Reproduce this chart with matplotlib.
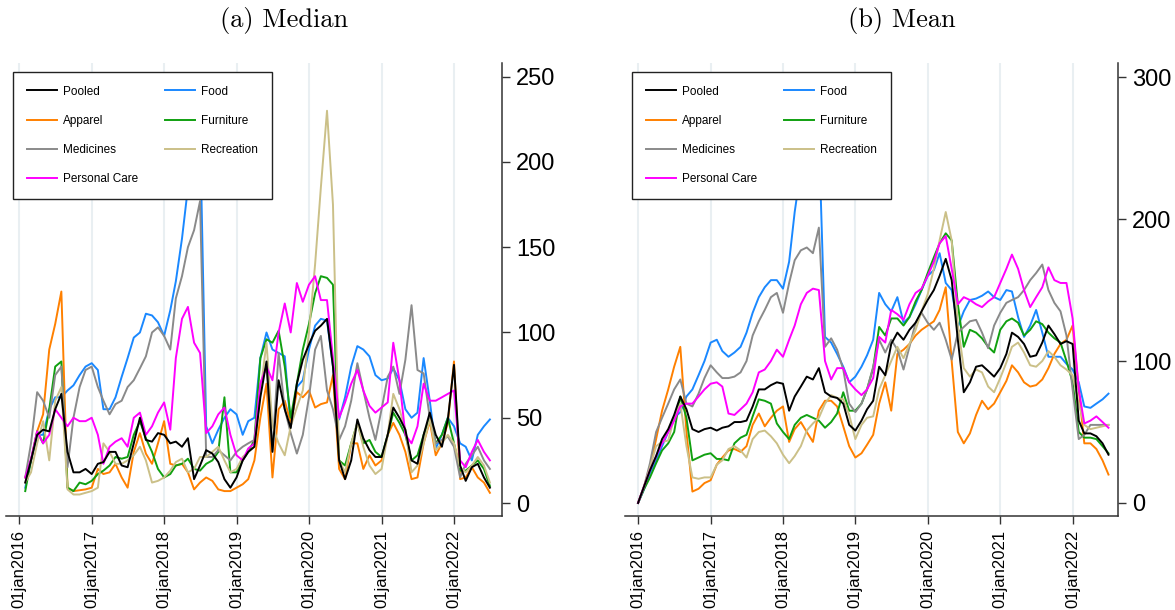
import pandas as pd
import matplotlib.pyplot as plt

# monthly observations
dates_median = pd.date_range('2016-02-01', periods=78, freq='MS')
dates_mean = pd.date_range('2016-01-01', periods=79, freq='MS')

years = list(range(2016, 2023))
tick_labels = ['01jan%d' % y for y in years]

# (a) Median
med_pooled = [12, 25, 40, 43, 42, 55, 64, 30, 18, 18, 20, 17, 23, 24, 30, 30, 22, 21, 35, 50,
              37, 36, 41, 40, 35, 36, 33, 38, 14, 22, 31, 29, 24, 14, 9, 15, 25, 30, 33, 62,
              83, 30, 72, 55, 44, 70, 84, 93, 101, 104, 108, 80, 25, 14, 25, 49, 38, 31, 27, 27,
              40, 56, 50, 43, 25, 23, 40, 53, 40, 33, 49, 81, 22, 13, 21, 23, 15, 9]
med_food = [9, 25, 40, 40, 55, 62, 62, 66, 69, 75, 80, 82, 78, 55, 55, 62, 74, 85, 97, 100,
            111, 110, 106, 98, 113, 130, 155, 185, 210, 220, 45, 35, 43, 50, 55, 52, 40, 48, 50, 85,
            100, 90, 88, 86, 45, 68, 72, 90, 104, 108, 107, 80, 49, 62, 80, 92, 90, 86, 75, 72,
            73, 79, 72, 55, 50, 53, 85, 60, 32, 40, 50, 45, 35, 33, 25, 40, 45, 49]
med_apparel = [15, 25, 42, 52, 90, 105, 124, 9, 7, 7.5, 8, 9, 20, 17, 18, 23, 15, 9, 30, 41,
               29, 23, 35, 48, 23, 22, 23, 18, 8, 12, 15, 13, 8, 7, 7, 9, 11, 14, 25, 50,
               70, 15, 55, 60, 47, 65, 62, 66, 56, 58, 59, 75, 20, 14, 35, 35, 20, 28, 22, 25,
               40, 47, 40, 30, 14, 15, 35, 48, 28, 35, 47, 83, 14, 15, 21, 15, 12, 6]
med_furniture = [7, 25, 42, 35, 55, 80, 83, 9, 7, 12, 11, 13, 17, 19, 22, 27, 26, 27, 40, 48,
                 38, 30, 20, 15, 17, 22, 23, 26, 20, 19, 23, 25, 30, 62, 18, 18, 25, 30, 37, 85,
                 96, 94, 101, 80, 50, 70, 90, 105, 123, 133, 132, 128, 25, 22, 35, 47, 35, 37, 30, 27,
                 40, 53, 47, 40, 25, 28, 40, 50, 35, 40, 50, 35, 19, 19, 22, 25, 20, 10]
med_medicines = [15, 35, 65, 60, 50, 75, 80, 21, 50, 68, 78, 80, 68, 60, 52, 58, 60, 68, 72, 79,
                 86, 100, 103, 98, 90, 120, 133, 150, 160, 177, 27, 27, 31, 28, 25, 30, 33, 35, 37, 70,
                 80, 31, 88, 55, 41, 29, 40, 62, 90, 98, 66, 55, 37, 45, 60, 82, 66, 50, 37, 55,
                 74, 80, 64, 84, 116, 78, 76, 50, 35, 37, 39, 33, 15, 23, 28, 33, 25, 20]
med_recreation = [12, 18, 35, 48, 25, 60, 68, 8, 5, 5, 6, 7, 9, 35, 30, 23, 23, 25, 28, 33,
                  25, 12, 13, 15, 19, 24, 26, 18, 20, 27, 27, 30, 33, 25, 18, 20, 27, 30, 33, 65,
                  94, 45, 35, 28, 45, 56, 66, 100, 140, 185, 230, 175, 25, 18, 35, 47, 33, 22, 17, 20,
                  40, 64, 55, 43, 18, 22, 35, 49, 31, 35, 40, 35, 21, 18, 22, 27, 22, 12]
med_personal = [15, 26, 42, 35, 40, 55, 50, 45, 50, 48, 48, 50, 40, 23, 33, 36, 38, 33, 50, 53,
                40, 45, 53, 59, 43, 85, 108, 115, 94, 88, 41, 45, 52, 56, 40, 28, 25, 32, 35, 70,
                80, 72, 100, 117, 100, 129, 118, 128, 133, 119, 119, 85, 50, 59, 70, 78, 66, 57, 53, 56,
                59, 94, 72, 40, 35, 45, 70, 60, 60, 62, 64, 66, 25, 21, 30, 37, 30, 25]

# (b) Mean
mean_pooled = [0, 12, 23, 33, 45, 52, 62, 75, 66, 52, 50, 52, 53, 51, 53, 54, 57, 57, 58, 68,
               80, 80, 83, 85, 84, 65, 75, 82, 89, 87, 95, 78, 75, 74, 70, 55, 51, 58, 66, 72,
               96, 90, 112, 120, 115, 122, 127, 135, 143, 150, 160, 172, 157, 115, 78, 85, 96, 97, 93, 89,
               95, 105, 120, 117, 112, 103, 104, 113, 125, 119, 112, 114, 112, 58, 49, 49, 47, 42, 34]
mean_food = [0, 10, 21, 30, 40, 50, 60, 64, 75, 80, 90, 100, 113, 115, 107, 103, 106, 110, 120, 134,
             145, 152, 157, 157, 151, 170, 205, 235, 255, 265, 260, 117, 113, 105, 96, 85, 89, 96, 104, 115,
             148, 140, 135, 145, 127, 131, 140, 150, 160, 164, 176, 155, 150, 124, 135, 143, 144, 146, 149, 145,
             143, 150, 149, 131, 117, 125, 136, 120, 103, 103, 103, 98, 94, 85, 68, 67, 70, 73, 77]
mean_apparel = [0, 12, 25, 45, 65, 80, 96, 110, 50, 8, 10, 14, 16, 27, 32, 37, 38, 36, 40, 55,
                63, 54, 60, 65, 68, 43, 52, 57, 50, 43, 65, 72, 72, 68, 54, 40, 32, 35, 41, 48,
                70, 85, 65, 105, 108, 112, 118, 122, 125, 128, 136, 152, 100, 50, 42, 49, 62, 72, 66, 70,
                78, 86, 97, 92, 85, 82, 83, 87, 95, 105, 112, 115, 125, 80, 42, 42, 38, 30, 20]
mean_furniture = [0, 10, 18, 28, 37, 42, 50, 75, 60, 30, 32, 34, 35, 31, 31, 30, 42, 46, 48, 61,
                  73, 72, 70, 56, 50, 45, 55, 60, 62, 60, 58, 53, 57, 63, 78, 65, 65, 70, 80, 95,
                  124, 118, 130, 130, 125, 131, 142, 150, 162, 173, 183, 190, 185, 140, 110, 122, 120, 116, 110, 106,
                  122, 128, 130, 127, 118, 122, 128, 126, 120, 116, 113, 100, 85, 50, 46, 46, 45, 40, 35]
mean_medicines = [0, 12, 28, 50, 60, 70, 80, 87, 70, 68, 77, 88, 97, 92, 88, 88, 89, 92, 100, 118,
                  128, 136, 145, 148, 134, 155, 171, 178, 180, 176, 194, 110, 116, 108, 94, 70, 64, 70, 80, 96,
                  115, 106, 115, 108, 94, 110, 127, 134, 127, 122, 127, 115, 101, 120, 124, 128, 129, 120, 109, 125,
                  134, 141, 143, 145, 150, 157, 162, 168, 150, 141, 135, 118, 80, 45, 48, 55, 55, 55, 55]
mean_recreation = [0, 12, 25, 40, 43, 44, 60, 70, 40, 18, 17, 18, 18, 27, 30, 38, 40, 37, 32, 45,
                   50, 51, 47, 42, 34, 28, 33, 40, 51, 56, 60, 70, 76, 74, 73, 62, 45, 55, 60, 61,
                   80, 90, 100, 110, 102, 112, 122, 135, 147, 165, 185, 205, 185, 125, 95, 89, 94, 92, 82, 78,
                   88, 99, 110, 113, 106, 97, 96, 100, 107, 103, 97, 94, 90, 70, 55, 52, 53, 54, 55]
mean_personal = [0, 12, 23, 33, 42, 50, 58, 68, 70, 70, 75, 80, 84, 85, 82, 63, 62, 66, 70, 78,
                 92, 94, 100, 108, 103, 115, 125, 140, 148, 151, 150, 100, 87, 95, 95, 85, 80, 76, 80, 88,
                 117, 113, 136, 133, 129, 140, 148, 151, 160, 170, 183, 188, 165, 140, 145, 143, 140, 138, 142, 145,
                 155, 165, 175, 165, 150, 138, 145, 152, 166, 157, 155, 155, 130, 80, 56, 58, 61, 57, 53]

colors = {
    'Pooled': 'black',
    'Food': '#1a88ff',
    'Apparel': '#ff8000',
    'Furniture': '#10a010',
    'Medicines': '#8a8a8a',
    'Recreation': '#cbc088',
    'Personal Care': '#ff00ff',
}

panels = [
    (dates_median, {'Food': med_food, 'Apparel': med_apparel, 'Furniture': med_furniture,
                    'Medicines': med_medicines, 'Recreation': med_recreation,
                    'Personal Care': med_personal, 'Pooled': med_pooled},
     [0, 50, 100, 150, 200, 250], (-7.6, 258), '(a) Median', 6, 502, '2022-08-31', 284),
    (dates_mean, {'Food': mean_food, 'Apparel': mean_apparel, 'Furniture': mean_furniture,
                  'Medicines': mean_medicines, 'Recreation': mean_recreation,
                  'Personal Care': mean_personal, 'Pooled': mean_pooled},
     [0, 100, 200, 300], (-9.2, 310), '(b) Mean', 625, 1118, '2022-08-18', 902),
]

legend_order = ['Pooled', 'Apparel', 'Medicines', 'Personal Care', 'Food', 'Furniture', 'Recreation']

W, H = 1175, 610
fig = plt.figure(figsize=(W / 100, H / 100), dpi=100)
plt.rcParams['font.family'] = ['Liberation Sans', 'DejaVu Sans']

for dates, data, yticks, ylim, title, x0, x1, xend, cx in panels:
    ax = fig.add_axes([x0 / W, (H - 516) / H, (x1 - x0) / W, (516 - 63) / H])
    lines = {}
    for name, vals in data.items():
        lines[name], = ax.plot(dates, vals, color=colors[name], lw=1.4, label=name)

    ax.set_ylim(*ylim)
    ax.set_xlim(pd.Timestamp('2015-10-27'), pd.Timestamp(xend))
    ax.yaxis.tick_right()
    ax.set_yticks(yticks)
    ax.tick_params(axis='y', labelsize=17, length=6, width=1, color='#333333', pad=4)
    xt = [pd.Timestamp('%d-01-01' % y) for y in years]
    ax.set_xticks(xt)
    ax.set_xticklabels(tick_labels, rotation=90, fontsize=12)
    ax.tick_params(axis='x', length=6, width=1, color='#333333', pad=4)
    ax.grid(axis='x', color='#e9eff2', lw=1.5)
    ax.set_axisbelow(True)
    for s in ['left', 'top']:
        ax.spines[s].set_visible(False)
    for s in ['right', 'bottom']:
        ax.spines[s].set_color('#333333')
        ax.spines[s].set_linewidth(1.1)

    leg = ax.legend([lines[n] for n in legend_order], legend_order, ncol=2,
                    loc='upper left', bbox_to_anchor=(7 / (x1 - x0), 1 - 9 / 453),
                    fontsize=8.5, frameon=True, fancybox=False, edgecolor='#222222',
                    framealpha=1, labelspacing=1.45, handlelength=2.55,
                    handletextpad=0.55, columnspacing=2.25, borderpad=1.15,
                    borderaxespad=0)
    leg.get_frame().set_linewidth(1.0)

    fig.text(cx / W, 1 - 20 / H, title, fontname='cmr10', fontsize=19,
             ha='center', va='center')

fig.savefig('out.png', dpi=100)
